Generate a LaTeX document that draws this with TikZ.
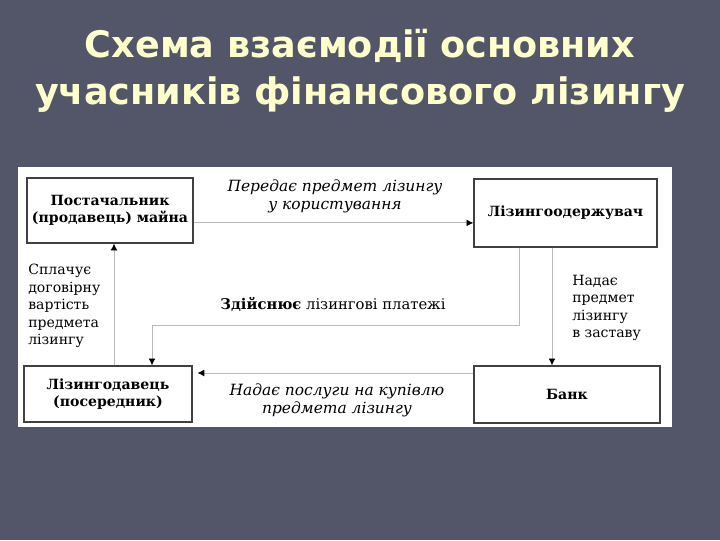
\documentclass[tikz,border=0pt]{standalone}
\usepackage{fontspec}
\setmainfont{DejaVu Serif}
\setsansfont{DejaVu Sans}
\usepackage{tikz}
\usetikzlibrary{arrows.meta, calc, positioning}
\definecolor{slide}{RGB}{82,86,104}
\definecolor{titleyellow}{RGB}{255,255,204}
\definecolor{linkgray}{RGB}{185,185,185}

\begin{document}
\begin{tikzpicture}[x=0.025cm, y=-0.025cm,
  >={Latex[length=1.7mm, width=1.7mm, color=black]},
  ttl/.style={font=\sffamily\bfseries\fontsize{26}{30}\selectfont, text=titleyellow, inner sep=0pt, anchor=base},
  box/.style={draw=black!75, line width=0.9pt, fill=white, align=center, inner sep=0pt,
    font=\bfseries\fontsize{10}{12.5}\selectfont},
  flow/.style={->, draw=linkgray, line width=0.6pt},
  lbl/.style={align=center, inner sep=0pt, font=\fontsize{10}{12.5}\selectfont},
  itlbl/.style={lbl, font=\itshape\fontsize{11}{12.5}\selectfont}]
% slide background and white panel
\fill[slide] (0,0) rectangle (720,540);
\useasboundingbox (0,0) rectangle (720,540);
\fill[white] (18,167) rectangle (672,427);
% title
\node[ttl] (t1) at (360,57) {Схема взаємодії основних};
\node[ttl] (t2) at (360,104) {учасників фінансового лізингу};
% participants
\node[box, minimum width=4.15cm, minimum height=1.625cm] (supplier) at (110,210.5) {Постачальник\\(продавець) майна};
\node[box, minimum width=4.575cm, minimum height=1.7cm] (lessee) at (565.5,213) {Лізингоодержувач};
\node[box, minimum width=4.2cm, minimum height=1.4cm] (lessor) at (108,394) {Лізингодавець\\(посередник)};
\node[box, minimum width=4.65cm, minimum height=1.425cm] (bank) at (567,394.5) {Банк};
% bend points
\coordinate (pay1) at (519,325);
\coordinate (pay2) at (152,325);
\coordinate (pledge) at (552,300);
\coordinate (serv) at (0,373);
% supplier -> lessee
\draw[flow] ([yshift=-0.31cm]supplier.east) -- ([yshift=-0.31cm]supplier.east -| lessee.west);
\node[itlbl] (give) at (335,196.5) {Передає предмет лізингу\\у користування};
% lessor -> supplier
\draw[flow] ([xshift=0.15cm]lessor.north) -- ([xshift=0.15cm]lessor.north |- supplier.south);
\node[lbl, align=left, anchor=west] (paycost) at (28,306) {Сплачує\\договірну\\вартість\\предмета\\лізингу};
% lessee -> lessor
\draw[flow] (lessee.south -| pay1) -- (pay1) -- (pay2) -- (pay2 |- lessor.north);
\node[lbl, font=\fontsize{10.5}{12.5}\selectfont] (payments) at (333,304) {\textbf{Здійснює} лізингові платежі};
% lessee -> bank
\draw[flow] (lessee.south -| pledge) -- (pledge |- bank.north);
\node[lbl, align=left, anchor=west] (pawn) at (572,308) {Надає\\предмет\\лізингу\\в заставу};
% bank -> lessor
\draw[flow] (bank.west |- serv) -- ([xshift=0.12cm]lessor.east |- serv);
\node[itlbl] (services) at (337,400.5) {Надає послуги на купівлю\\предмета лізингу};
\end{tikzpicture}
\end{document}
